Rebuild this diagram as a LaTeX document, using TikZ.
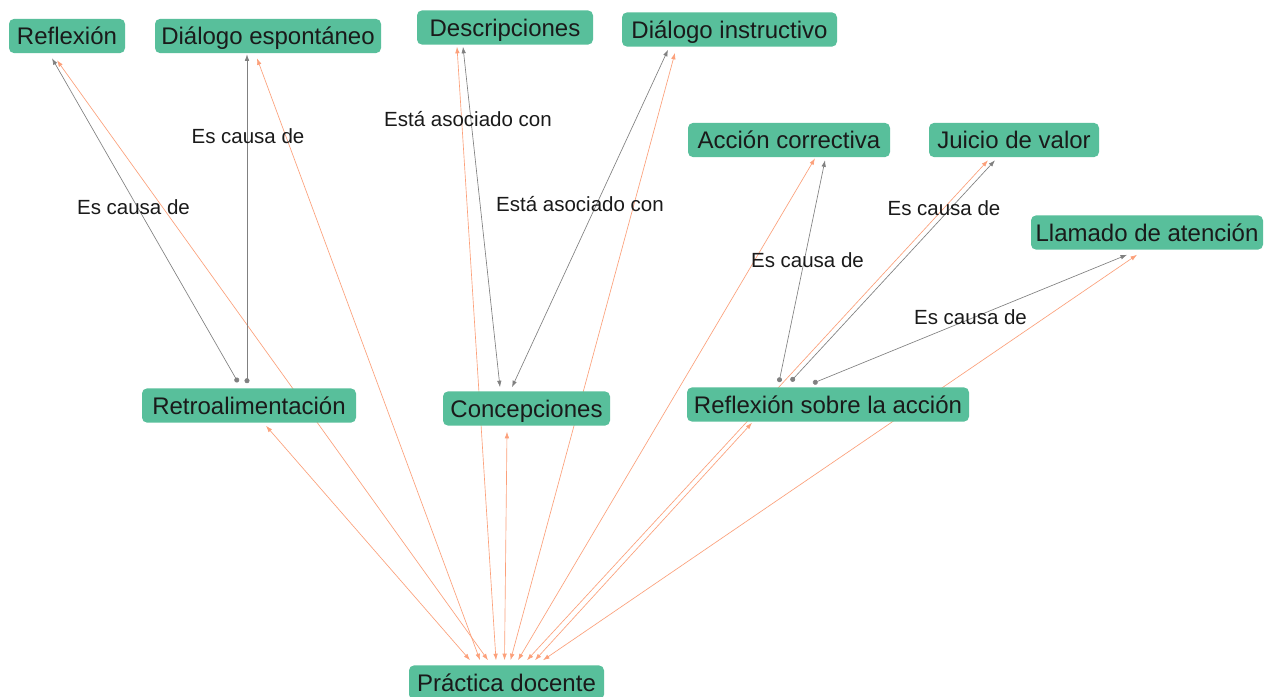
\documentclass[tikz,border=0pt]{standalone}
\usepackage{fontspec}
\setmainfont{Liberation Sans}
\usetikzlibrary{arrows.meta,calc,backgrounds}
\definecolor{nodefill}{HTML}{58BF9B}
\definecolor{edgeor}{HTML}{FCA07A}
\definecolor{edgegr}{HTML}{808080}
\definecolor{txt}{HTML}{1A1A1A}
\begin{document}
\begin{tikzpicture}[x=1pt,y=-1pt,
  box/.style={fill=nodefill, rounded corners=5pt, text=txt, font=\fontsize{24}{28}\selectfont,
    text height=17.2pt, text depth=0pt, inner ysep=8.5pt, inner xsep=4pt, anchor=center},
  lab/.style={text=txt, font=\fontsize{20.5}{24}\selectfont, inner sep=0pt},
  ore/.style={draw=edgeor, line width=0.65pt, {Latex[length=6.5pt,width=4.5pt]}-{Latex[length=6.5pt,width=4.5pt]}},
  gre/.style={draw=edgegr, line width=0.65pt, {Circle[length=5pt]}-{Latex[length=6.5pt,width=4.5pt]}},
  grb/.style={draw=edgegr, line width=0.65pt, {Latex[length=6.5pt,width=4.5pt]}-{Latex[length=6.5pt,width=4.5pt]}}]
\useasboundingbox (0,0) rectangle (1266,696);

% nodes
\node[box, minimum width=116pt] (refl) at (67,36) {Reflexión};
\node[box, minimum width=226pt] (desp) at (268,36) {Diálogo espontáneo};
\node[box, minimum width=176pt] (desc) at (505,27.5) {Descripciones};
\node[box, minimum width=215pt] (dins) at (729.5,29.5) {Diálogo instructivo};
\node[box, minimum width=202pt] (acc) at (789,140) {Acción correctiva};
\node[box, minimum width=170pt] (jv) at (1014,140) {Juicio de valor};
\node[box, minimum width=232pt] (llam) at (1147,232.5) {Llamado de atención};
\node[box, minimum width=214pt] (retro) at (249,405.5) {Retroalimentación};
\node[box, minimum width=167pt] (conc) at (526.5,408.5) {Concepciones};
\node[box, minimum width=282pt] (rsa) at (828,404.5) {Reflexión sobre la acción};
\node[box, minimum width=195pt] (pd) at (506.5,682.5) {Práctica docente};

\begin{scope}[on background layer]
\fill[white] (0,0) rectangle (1266,696);
% orange edges
\draw[ore] ($(pd.north)+(-36.5,-5)$) -- ($(retro.south)+(17,3)$);
\draw[ore] ($(pd.north)+(-26.5,-5)$) -- ($(desp.south)+(-11,5)$);
\draw[ore] ($(pd.north)+(-18.5,-5)$) -- ($(refl.south)+(-10,7)$);
\draw[ore] ($(pd.north)+(-10.5,-5)$) -- ($(desc.south)+(-48,2)$);
\draw[ore] ($(pd.north)+(-2,-5)$) -- ($(conc.south)+(-19.5,6)$);
\draw[ore] ($(pd.north)+(4,-5)$) -- ($(dins.south)+(-54.5,6)$);
\draw[ore] ($(pd.north)+(11.5,-5)$) -- ($(acc.south)+(26,1)$);
\draw[ore] ($(pd.north)+(20.5,-5)$) -- ($(jv.south)+(-26,3)$);
\draw[ore] ($(pd.north)+(28.5,-5)$) -- ($(rsa.south)+(-76,1)$);
\draw[ore] ($(pd.north)+(36.5,-5)$) -- ($(llam.south)+(-10,5)$);
% gray edges
\draw[gre] ($(retro.north)+(-11,-6)$) -- ($(refl.south)+(-15,5)$);
\draw[gre] ($(retro.north)+(-2,-5)$) -- ($(desp.south)+(-21,1)$);
\draw[grb] ($(desc.south)+(-42,2)$) -- ($(conc.north)+(-26.5,-4)$);
\draw[grb] ($(dins.south)+(-61.5,3)$) -- ($(conc.north)+(-14.5,-4)$);
\draw[gre] ($(rsa.north)+(-49,-5)$) -- ($(acc.south)+(36,3)$);
\draw[gre] ($(rsa.north)+(-37,-6)$) -- ($(jv.south)+(-19,3)$);
\draw[gre] ($(rsa.north)+(-15,-4)$) -- ($(llam.south)+(-20,5)$);
\end{scope}

% labels
\node[lab] (l1) at (133.5,207) {Es causa de};
\node[lab] (l2) at (248,136) {Es causa de};
\node[lab] (l3) at (468,119) {Está asociado con};
\node[lab] (l4) at (580,204) {Está asociado con};
\node[lab] (l5) at (807.5,260) {Es causa de};
\node[lab] (l6) at (944,208) {Es causa de};
\node[lab] (l7) at (970.5,317) {Es causa de};
\end{tikzpicture}
\end{document}
